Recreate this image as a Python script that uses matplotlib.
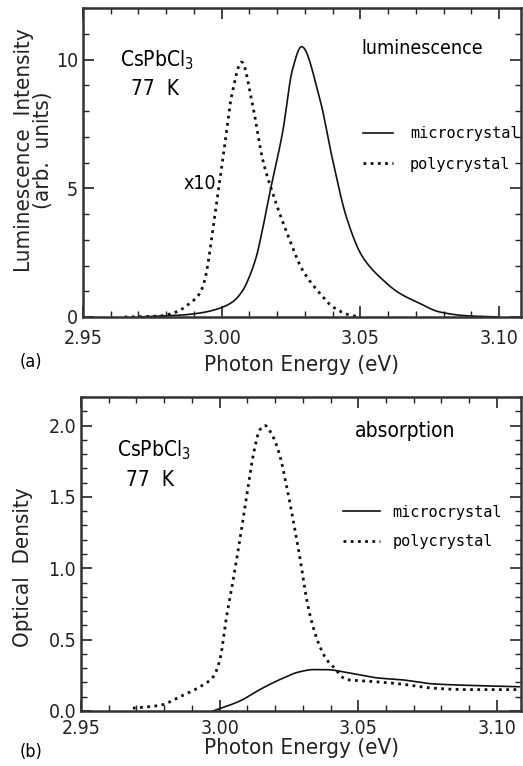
import numpy as np
import matplotlib
matplotlib.use("Agg")
import matplotlib.pyplot as plt
from matplotlib.ticker import MultipleLocator, FormatStrFormatter

plt.rcParams['font.family'] = ['DejaVu Sans']
plt.rcParams['font.stretch'] = 'condensed'

# ── (a) luminescence ──
lum_micro_e = [2.970, 2.979, 2.986, 2.993, 2.9993, 3.0041, 3.0077, 3.010, 3.0125, 3.0149,
               3.0173, 3.022, 3.0255, 3.0288, 3.0353, 3.040, 3.0449, 3.0507, 3.058,
               3.064, 3.071, 3.0784, 3.088, 3.100]
lum_micro_i = [0.0, 0.04, 0.08, 0.17, 0.34, 0.6, 1.05, 1.57, 2.35, 3.5,
               4.8, 7.2, 9.6, 10.5, 8.5, 6.1, 3.9, 2.35, 1.45,
               0.93, 0.55, 0.2, 0.05, 0.0]
lum_poly_e = [2.965, 2.9777, 2.9837, 2.9885, 2.9921, 2.9939, 2.9951, 2.9963, 2.9975, 2.9987,
              3.001, 3.0036, 3.0072, 3.0112, 3.0148, 3.0184, 3.0234, 3.029, 3.0353,
              3.040, 3.046, 3.050]
lum_poly_i = [0.0, 0.04, 0.2, 0.53, 0.92, 1.44, 2.1, 3.0, 3.9, 4.8,
              6.6, 8.6, 9.9, 8.2, 6.1, 4.8, 3.3, 1.85, 0.93,
              0.4, 0.08, 0.0]

# ── (b) absorption ──
abs_micro_e = [2.9976, 3.0073, 3.0145, 3.0217, 3.0289, 3.0337, 3.0386, 3.0458, 3.0578,
               3.065, 3.077, 3.089, 3.108]
abs_micro_od = [0.0, 0.07, 0.15, 0.22, 0.275, 0.29, 0.29, 0.27, 0.23,
                0.22, 0.19, 0.18, 0.17]
abs_poly_e = [2.9687, 2.9785, 2.9857, 2.9929, 2.9977, 3.0001, 3.0025, 3.0049, 3.0073, 3.0097,
              3.0121, 3.0145, 3.0163, 3.0193, 3.0217, 3.0241, 3.0265, 3.0289, 3.0314,
              3.0337, 3.0362, 3.0386, 3.041, 3.0458, 3.053, 3.065, 3.077, 3.089, 3.108]
abs_poly_od = [0.02, 0.04, 0.10, 0.17, 0.24, 0.36, 0.66, 0.92, 1.2, 1.5,
               1.79, 1.97, 2.0, 1.92, 1.79, 1.58, 1.34, 1.08, 0.78,
               0.59, 0.45, 0.36, 0.31, 0.22, 0.21, 0.19, 0.16, 0.15, 0.15]

XTICKS = [2.95, 3.00, 3.05, 3.10]
XTICKLABELS = ["2.95", "3.00", "3.05", "3.10"]
MONO = {"family": ["DejaVu Sans Mono"], "size": 11}
INK = "#222222"

def pchip(x, y, n=600):
    # monotone cubic (Fritsch-Carlson) through the read points
    x = np.asarray(x, float); y = np.asarray(y, float)
    h = np.diff(x); d = np.diff(y) / h
    m = np.zeros_like(y)
    for i in range(1, len(x) - 1):
        if d[i-1] * d[i] > 0:
            w1 = 2*h[i] + h[i-1]; w2 = h[i] + 2*h[i-1]
            m[i] = (w1 + w2) / (w1/d[i-1] + w2/d[i])
    m[0], m[-1] = d[0], d[-1]
    xs = np.linspace(x[0], x[-1], n)
    k = np.clip(np.searchsorted(x, xs) - 1, 0, len(h) - 1)
    t = (xs - x[k]) / h[k]
    h00 = 2*t**3 - 3*t**2 + 1; h10 = t**3 - 2*t**2 + t
    h01 = -2*t**3 + 3*t**2;    h11 = t**3 - t**2
    ys = h00*y[k] + h10*h[k]*m[k] + h01*y[k+1] + h11*h[k]*m[k+1]
    return xs, ys

def style(ax, ylim, ymaj, ymin, xmax, xpad, lpad):
    ax.set_xlim(2.95, xmax)
    ax.set_ylim(*ylim)
    ax.set_xticks(XTICKS)
    ax.set_xticklabels(XTICKLABELS)
    ax.xaxis.set_minor_locator(MultipleLocator(0.01))
    ax.yaxis.set_major_locator(MultipleLocator(ymaj))
    ax.yaxis.set_minor_locator(MultipleLocator(ymin))
    ax.tick_params(which="both", direction="in", top=True, right=True,
                   labelsize=14, colors=INK)
    ax.tick_params(axis="x", pad=xpad)
    ax.tick_params(which="major", length=8, width=1.2)
    ax.tick_params(which="minor", length=4, width=1)
    for s in ax.spines.values():
        s.set_linewidth(1.8); s.set_color("#333333")
    ax.set_xlabel("Photon Energy (eV)", fontsize=16, color=INK, labelpad=lpad)

fig = plt.figure(figsize=(5.23, 7.66), dpi=100)

# ── Panel (a) ──
ax1 = fig.add_axes([83/523, 449/766, 438/523, 309/766])
x, y = pchip(lum_micro_e, lum_micro_i)
ax1.plot(x, y, color="#111111", lw=1.2, label="microcrystal")
x, y = pchip(lum_poly_e, lum_poly_i)
ax1.plot(x, y, color="#111111", lw=2, ls=(0, (1, 1.6)), label="polycrystal")
style(ax1, (0, 12), 5, 1, 3.1079, 9, 5)
ax1.set_yticks([0, 5, 10])
ax1.set_ylabel("Luminescence  Intensity\n(arb.  units)", fontsize=16,
               color=INK, linespacing=0.95)
ax1.yaxis.set_label_coords(-0.068, 0.54)
ax1.text(2.9766, 9.96, "CsPbCl$_3$", fontsize=15, ha="center", va="center")
ax1.text(2.976, 8.87, "77  K", fontsize=15, ha="center", va="center")
ax1.text(3.0723, 10.43, "luminescence", fontsize=14, ha="center", va="center")
ax1.text(2.992, 5.2, "x10", fontsize=14, ha="center", va="center")
ax1.legend(loc="center left", bbox_to_anchor=(0.607, 0.544), frameon=False,
           handlelength=2.0, handletextpad=1.1, labelspacing=1.0, prop=MONO)
fig.text(20/523, 1 - 362/766, "(a)", fontsize=13, va="center")

# ── Panel (b) ──
ax2 = fig.add_axes([81/523, 55/766, 440/523, 314/766])
x, y = pchip(abs_micro_e, abs_micro_od)
ax2.plot(x, y, color="#111111", lw=1.2, label="microcrystal")
x, y = pchip(abs_poly_e, abs_poly_od)
ax2.plot(x, y, color="#111111", lw=2, ls=(0, (1, 1.6)), label="polycrystal")
style(ax2, (0, 2.2), 0.5, 0.1, 3.1087, 6, 0)
ax2.yaxis.set_major_formatter(FormatStrFormatter("%.1f"))
ax2.set_ylabel("Optical  Density", fontsize=16, color=INK)
ax2.yaxis.set_label_coords(-0.109, 0.459)
ax2.text(2.9763, 1.83, "CsPbCl$_3$", fontsize=15, ha="center", va="center")
ax2.text(2.9749, 1.62, "77  K", fontsize=15, ha="center", va="center")
ax2.text(3.0668, 1.96, "absorption", fontsize=15, ha="center", va="center")
ax2.legend(loc="center left", bbox_to_anchor=(0.564, 0.586), frameon=False,
           handlelength=2.4, handletextpad=0.85, labelspacing=0.95, prop=MONO)
fig.text(20/523, 1 - 752/766, "(b)", fontsize=13, va="center")

fig.savefig("out.png", dpi=100)
